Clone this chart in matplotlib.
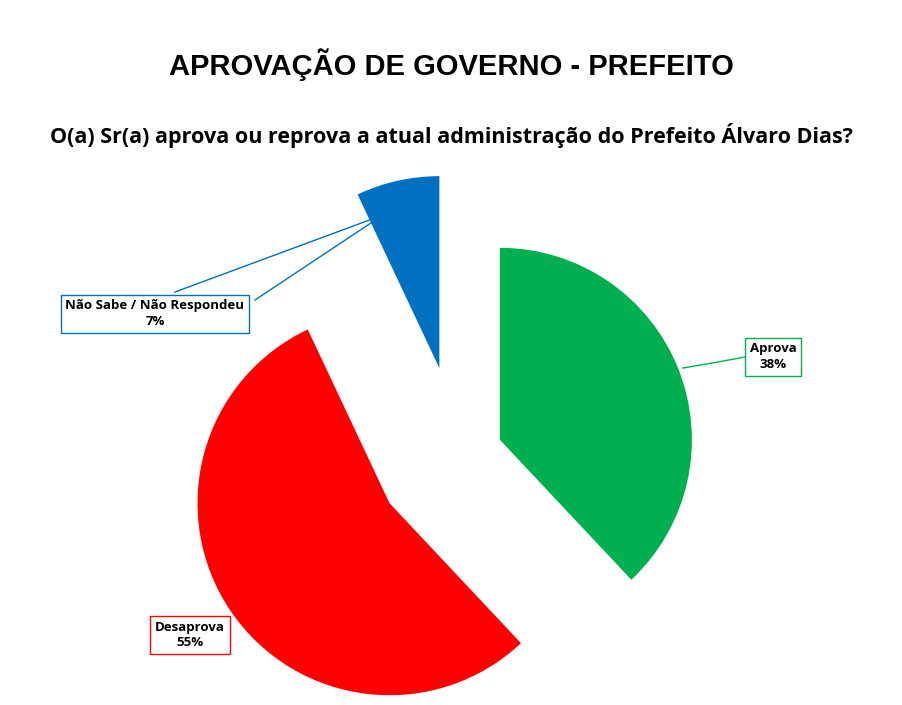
import matplotlib
matplotlib.use("Agg")
import matplotlib.pyplot as plt

categories = ["Aprova", "Desaprova", "Não Sabe / Não Respondeu"]
values = [38, 55, 7]
colors = ["#00B050", "#FF0000", "#0070C0"]
labels = ["Aprova\n38%", "Desaprova\n55%", "Não Sabe / Não Respondeu\n7%"]

H = 705
fig = plt.figure(figsize=(9.03, 7.05), dpi=100)
ax = fig.add_axes([0, 0, 1, 1])
ax.set_xlim(0, 903); ax.set_ylim(0, H); ax.axis("off")

ax.pie(values, colors=colors, startangle=90, counterclock=False,
       center=(459, H - 456), radius=192, explode=[44, 84, 90],
       wedgeprops=dict(linewidth=0), frame=True)
ax.set_xlim(0, 903); ax.set_ylim(0, H); ax.axis("off"); ax.set_aspect("equal")

fig.text(0.5, 1 - 65 / H, "APROVAÇÃO DE GOVERNO - PREFEITO", ha="center", va="center",
         fontsize=21, fontweight="bold", family="Liberation Sans")
fig.text(0.5, 1 - 135 / H, "O(a) Sr(a) aprova ou reprova a atual administração do Prefeito Álvaro Dias?",
         ha="center", va="center", fontsize=15.5, fontweight="bold", family="Open Sans")

def box(x, y, txt, col):
    ax.text(x, H - y, txt, ha="center", va="center", fontsize=9.5, fontweight="bold",
            family="Open Sans", linespacing=1.3,
            bbox=dict(boxstyle="square,pad=0.35", fc="white", ec=col, lw=1))

# leader lines
ax.plot([683, 718, 745], [H - 368, H - 362, H - 357], color=colors[0], lw=1)
ax.plot([175, 383], [H - 292, H - 215], color=colors[2], lw=1)
ax.plot([255, 383], [H - 300, H - 215], color=colors[2], lw=1)

box(773, 357, labels[0], colors[0])
box(190, 635, labels[1], colors[1])
box(155, 314, labels[2], colors[2])

fig.savefig("out.png", dpi=100, facecolor="white")
